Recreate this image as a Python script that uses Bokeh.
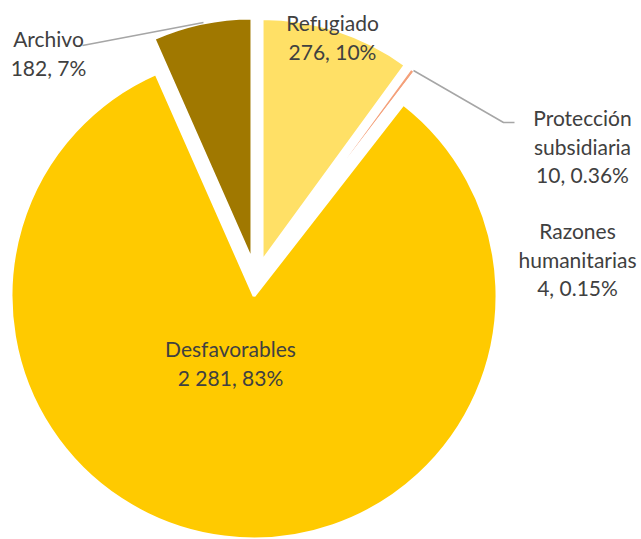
import math
from bokeh.plotting import figure
from bokeh.models import Range1d, ColumnDataSource
from bokeh.core.properties import value
from bokeh.embed import file_html
from bokeh.resources import INLINE

# ---- data ----
categories = ["Refugiado", "Protección subsidiaria", "Razones humanitarias", "Desfavorables", "Archivo"]
counts = [276, 10, 4, 2281, 182]
count_labels = ["276", "10", "4", "2 281", "182"]
pct_labels = ["10%", "0.36%", "0.15%", "83%", "7%"]
colors = ["#FFE066", "#F4A07A", "#FFF2CC", "#FFCA00", "#A07800"]

# ---- layout (screen pixel coords) ----
W, H = 641, 539
CX, CY = 255.5, 279.5
R = 243
explode = [19.5, 19.5, 19.5, 16, 19.5]

p = figure(width=W, height=H, output_backend="svg", toolbar_location=None,
           x_range=Range1d(0, W), y_range=Range1d(-H, 0),
           min_border=0, x_axis_type=None, y_axis_type=None)
p.grid.visible = False
p.outline_line_color = None
p.background_fill_color = "white"
p.border_fill_color = "white"

total = float(sum(counts))
cum = 0.0
xs, ys, starts, ends = [], [], [], []
for c, d in zip(counts, explode):
    a = cum / total
    b = (cum + c) / total
    cum += c
    mid = (a + b) / 2 * 2 * math.pi  # clockwise from top
    xs.append(CX + d * math.sin(mid))
    ys.append(-CY + d * math.cos(mid))
    starts.append(math.pi / 2 - 2 * math.pi * b)
    ends.append(math.pi / 2 - 2 * math.pi * a)

src = ColumnDataSource(dict(x=xs, y=ys, start=starts, end=ends, color=colors, cat=categories))
p.wedge(x="x", y="y", radius=R, start_angle="start", end_angle="end",
        fill_color="color", line_color="white", line_width=3,
        direction="anticlock", source=src)

# leader lines
p.line(x=[203, 82], y=[-22, -45], line_color="#A6A6A6", line_width=1.5)
p.line(x=[413, 503, 514], y=[-70, -122, -122], line_color="#A6A6A6", line_width=1.5)

# labels
label_lines = [
    [categories[0], f"{count_labels[0]}, {pct_labels[0]}"],
    ["Protección", "subsidiaria", f"{count_labels[1]}, {pct_labels[1]}"],
    ["Razones", "humanitarias", f"{count_labels[2]}, {pct_labels[2]}"],
    [categories[3], f"{count_labels[3]}, {pct_labels[3]}"],
    [categories[4], f"{count_labels[4]}, {pct_labels[4]}"],
]
label_pos = [(332, 22), (582, 117), (577, 230), (230, 348), (48, 38)]
LH = 28.5

tx, ty, tt = [], [], []
for lines, (lx, ly) in zip(label_lines, label_pos):
    for i, t in enumerate(lines):
        tx.append(lx)
        ty.append(-(ly + i * LH))
        tt.append(t)

p.text(x=tx, y=ty, text=tt, text_align="center", text_baseline="middle",
       text_font=value("Lato"), text_font_size="21px", text_color="#404040")

open("out.html", "w").write(file_html(p, INLINE))
